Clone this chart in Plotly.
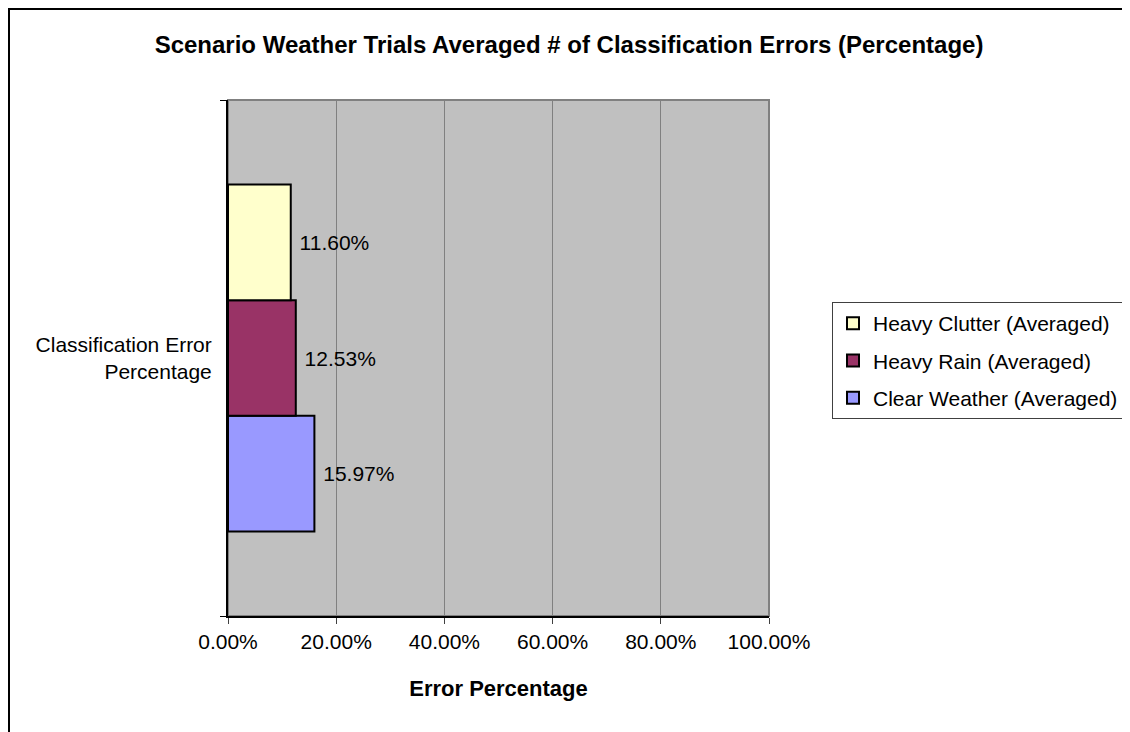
import plotly.graph_objects as go

category = ["Classification Error<br>Percentage"]
series_names = ["Clear Weather (Averaged)", "Heavy Rain (Averaged)", "Heavy Clutter (Averaged)"]
series_values = [0.1597, 0.1253, 0.1160]
series_colors = ["#9999FF", "#993366", "#FFFFCC"]
legend_ranks = [3, 2, 1]
x_ticks = [0, 0.2, 0.4, 0.6, 0.8, 1.0]

FONT = "Liberation Sans, Arial, sans-serif"

# figure is placed at page offset (8, 8) by the default body margin
W, H = 1122, 724
L, R, T, B = 220, 761, 92, 608

fig = go.Figure()
for name, val, col, rank in zip(series_names, series_values, series_colors, legend_ranks):
    fig.add_trace(go.Bar(
        y=category, x=[val], name=name, orientation="h",
        legendgroup=name, legendrank=rank,
        marker=dict(color=col, line=dict(color="black", width=2)),
        text=["\u00a0" + f"{val*100:.2f}%"], textposition="outside",
        textfont=dict(family=FONT, size=21, color="black"),
        cliponaxis=False,
    ))

def px2paper_x(px):
    return (px - L) / (R - L)

def px2paper_y(py):
    return (B - py) / (B - T)

fig.update_layout(
    width=W, height=H,
    margin=dict(l=L, r=W - R, t=T, b=H - B, autoexpand=False),
    paper_bgcolor="white",
    plot_bgcolor="#C0C0C0",
    barmode="group", bargap=0.328, bargroupgap=0,
    font=dict(family=FONT, size=21, color="black"),
    title=dict(
        text="<b>Scenario Weather Trials Averaged # of Classification Errors (Percentage)</b>",
        x=561 / W, xanchor="center", y=1 - 37 / H, yanchor="middle",
        font=dict(family=FONT, size=24, color="black"),
    ),
    xaxis=dict(
        range=[0, 1], tickvals=x_ticks, tickformat=".2%",
        showgrid=True, gridcolor="#808080", gridwidth=1,
        showline=True, linecolor="black", linewidth=2,
        ticks="outside", ticklen=6, tickcolor="#404040",
        tickfont=dict(size=21),
        zeroline=False, automargin=False,
        title=dict(text="<b>Error Percentage</b>", font=dict(size=22), standoff=28),
        fixedrange=True,
    ),
    yaxis=dict(
        showgrid=False, showline=True, linecolor="black", linewidth=2,
        ticks="outside", tickson="boundaries", ticklen=6, tickcolor="black",
        tickfont=dict(size=21), ticklabelstandoff=10, automargin=False,
        fixedrange=True,
    ),
    legend=dict(
        x=px2paper_x(824), y=px2paper_y(294), xanchor="left", yanchor="top",
        traceorder="grouped", tracegroupgap=7, itemwidth=30,
        bordercolor="#404040", borderwidth=1, bgcolor="white",
        font=dict(size=21), itemclick=False, itemdoubleclick=False,
    ),
    showlegend=True,
    shapes=[
        dict(type="rect", xref="paper", yref="paper", x0=0, x1=1, y0=0, y1=1,
             line=dict(color="#808080", width=2), layer="below"),
        dict(type="rect", xref="paper", yref="paper",
             x0=px2paper_x(1), x1=px2paper_x(W + 20), y0=px2paper_y(H + 20), y1=px2paper_y(1),
             line=dict(color="black", width=2), fillcolor="rgba(0,0,0,0)", layer="below"),
    ],
)

fig.write_html("out.html")
